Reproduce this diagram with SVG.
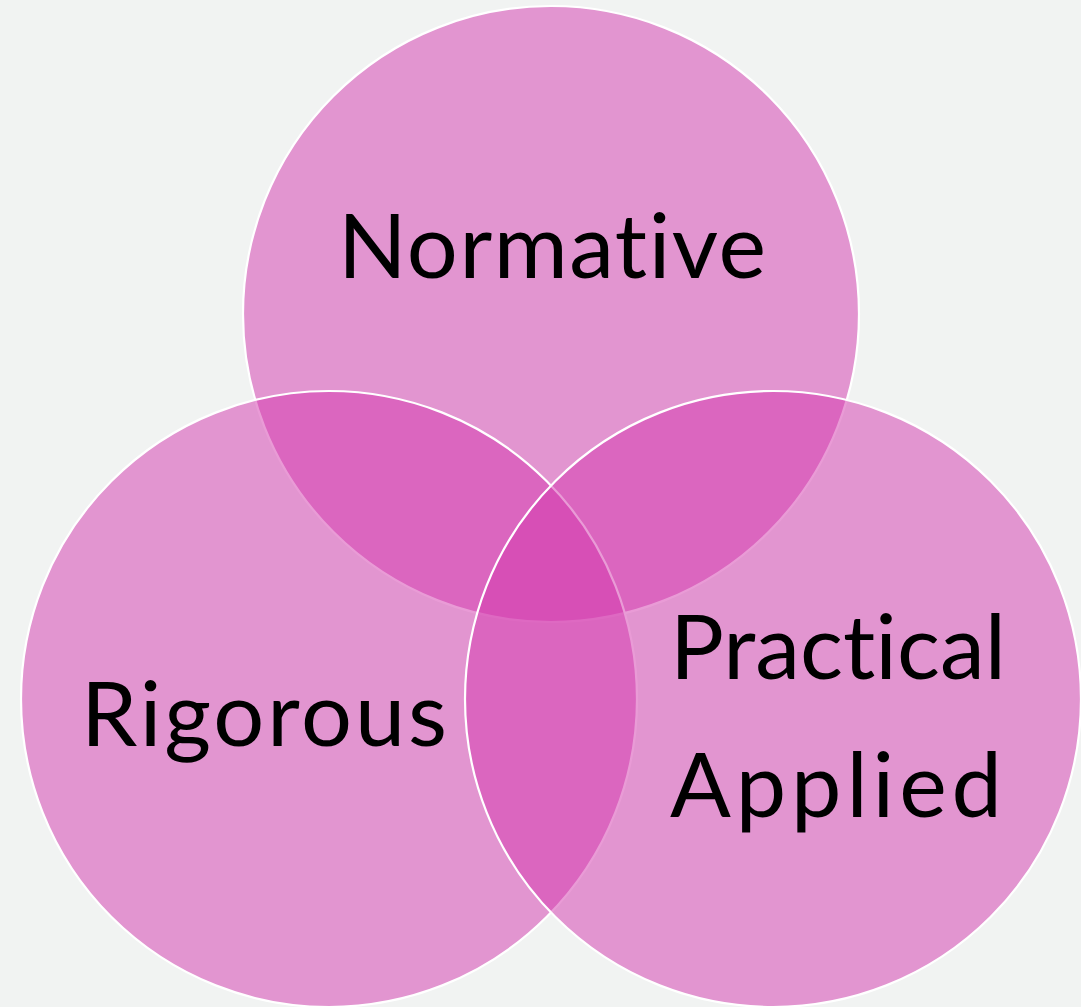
<svg xmlns="http://www.w3.org/2000/svg" width="1081" height="1007" viewBox="0 0 1081 1007">
<style>
.c{fill:rgb(211,55,174);fill-opacity:0.5;stroke:#ffffff;stroke-width:2.2}
.t{font-family:Lato,"Liberation Sans",sans-serif;font-size:90px;fill:#000000;font-variant-ligatures:none;font-feature-settings:"liga" 0,"clig" 0}
</style>
<rect width="1081" height="1007" fill="#f1f3f2"/>
<g id="normative">
<circle class="c" cx="551" cy="314" r="308"/>
</g>
<g id="rigorous">
<circle class="c" cx="329" cy="699" r="308"/>
</g>
<g id="practical">
<circle class="c" cx="773" cy="699" r="308"/>
</g>
<g id="connectors"></g>
<g id="labels">
<text class="t" x="338" y="278" textLength="428" lengthAdjust="spacing">Normative</text>
<text class="t" x="81" y="746" textLength="366" lengthAdjust="spacing">Rigorous</text>
<text class="t" x="670" y="679" textLength="336" lengthAdjust="spacing">Practical</text>
<text class="t" x="670" y="817" textLength="332" lengthAdjust="spacing">Applied</text>
</g>
</svg>
